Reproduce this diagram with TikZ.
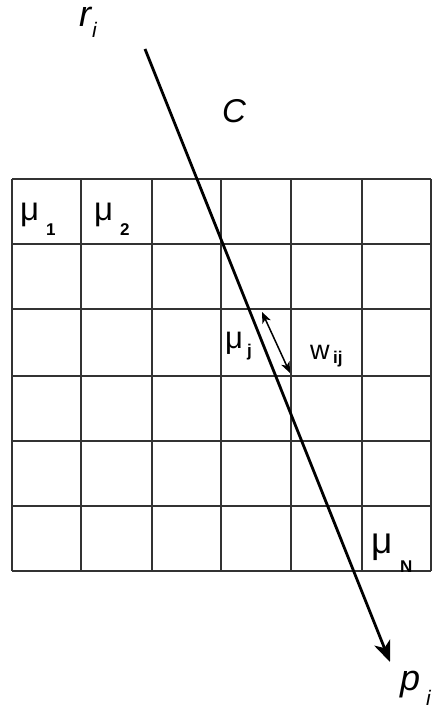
\documentclass[tikz,border=0pt]{standalone}
\usepackage{fontspec}
\setmainfont{Liberation Sans}
\usetikzlibrary{arrows.meta}
\begin{document}
\begin{tikzpicture}[x=1bp,y=-1bp,
  gridline/.style={draw=black!80,line width=1.3bp},
  ray/.style={draw=black,line width=2.8bp,-{Stealth[length=21bp,width=17bp,inset=6bp]}},
  seg/.style={draw=black,line width=1.5bp,{Stealth[length=11bp,width=9bp,inset=3bp]}-{Stealth[length=11bp,width=9bp,inset=3bp]}},
  lbl/.style={inner sep=0pt,anchor=base west},
  big/.style={lbl,font=\fontsize{36bp}{36bp}\selectfont\itshape},
  mu/.style={lbl,font=\fontsize{33bp}{33bp}\selectfont},
  sub/.style={lbl,font=\fontsize{17bp}{17bp}\selectfont\bfseries},
  isub/.style={lbl,font=\fontsize{21bp}{21bp}\selectfont\itshape}]
\useasboundingbox (0,0) rectangle (432,708);
\foreach \x in {12,81,152,221,291,362,431} \draw[gridline] (\x,179) -- (\x,571);
\foreach \y in {179,244,309,376,441,506,571} \draw[gridline] (12,\y) -- (431,\y);
% labels
\node[big] (r) at (79,27) {r};
\node[isub] (ri) at (92,38) {i};
\node[lbl,font=\fontsize{33bp}{33bp}\selectfont\itshape] (C) at (222,123) {C};
\node[big] (p) at (400,690) {p};
\node[isub] (pi) at (426,705) {i};
\node[mu] (m1) at (20,220) {μ};
\node[sub] (m1s) at (46,235) {1};
\node[mu] (m2) at (94,220) {μ};
\node[sub] (m2s) at (120,235) {2};
\node[mu,font=\fontsize{31bp}{31bp}\selectfont] (mj) at (225,348) {μ};
\node[sub] (mjs) at (247,356) {j};
\node[lbl,font=\fontsize{27bp}{27bp}\selectfont] (w) at (310,359) {w};
\node[sub] (ws) at (333,363) {ij};
\node[mu,font=\fontsize{37bp}{37bp}\selectfont] (mN) at (371,553) {μ};
\node[sub] (mNs) at (400,572) {N};
% rays
\coordinate (rs) at (145,49);
\coordinate (pe) at (390,662);
\draw[ray] (rs) -- (pe);
\coordinate (ws1) at (262,312);
\coordinate (ws2) at (290,373);
\draw[seg] (ws1) -- (ws2);
\end{tikzpicture}
\end{document}
